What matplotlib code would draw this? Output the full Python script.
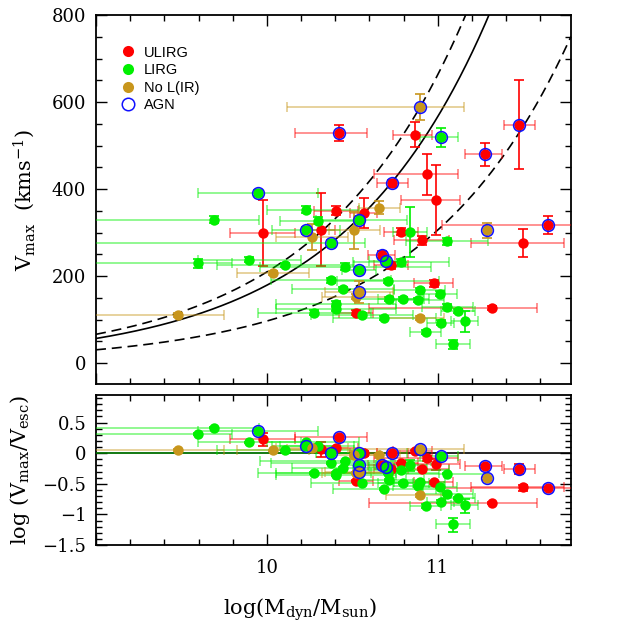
import numpy as np
import matplotlib
matplotlib.use('Agg')
import matplotlib.pyplot as plt
from matplotlib.lines import Line2D
from matplotlib.ticker import MultipleLocator, FuncFormatter
from matplotlib.colors import to_rgba

plt.rcParams['font.family'] = ['DejaVu Serif']
plt.rcParams['mathtext.fontset'] = 'dejavuserif'

# ULIRG (red)
ulirg_m = [10.425, 10.869, 11.278, 11.477, 10.735, 10.937, 10.988, 11.647, 11.497, 10.906,
           10.785, 10.672, 10.727, 10.977, 11.319, 10.522, 9.977, 10.405, 10.318, 10.567]
ulirg_mlo = [0.26, 0.13, 0.12, 0.09, 0.09, 0.31, 0.20, 0.62, 0.30, 0.16,
             0.10, 0.08, 0.10, 0.115, 0.72, 0.10, 0.19, 0.13, 0.08, 0.08]
ulirg_mhi = [0.16, 0.10, 0.10, 0.09, 0.09, 0.18, 0.14, 0.62, 0.24, 0.16,
             0.10, 0.08, 0.10, 0.115, 0.26, 0.10, 0.19, 0.13, 0.08, 0.08]
ulirg_v = [529, 525, 480, 548, 413, 434, 375, 318, 276, 282,
           302, 249, 225, 184, 127, 116, 300, 350, 307, 345]
ulirg_verr = [18, 28, 27, 103, 8, 47, 80, 21, 32, 10,
              8, 8, 8, 8, 5, 5, 76, 10, 84, 34]
ulirg_agn = [1, 0, 1, 1, 1, 0, 0, 1, 0, 0, 0, 1, 0, 0, 0, 0, 0, 0, 0, 0]

# LIRG (green)
lirg_m = [11.019, 9.948, 9.693, 10.228, 10.298, 10.228, 10.376, 10.538, 10.838, 11.056,
          10.697, 10.785, 10.458, 10.538, 9.596, 9.898, 10.108, 10.376, 10.708, 10.446,
          10.405, 10.405, 10.278, 10.556, 10.688, 10.717, 10.799, 10.895, 10.887, 11.012,
          11.056, 11.117, 11.158, 11.017, 10.930, 11.088]
lirg_mlo = [0.12, 0.35, 1.00, 0.23, 0.22, 0.20, 1.50, 0.25, 0.10, 0.24,
            0.10, 0.28, 0.50, 0.10, 0.80, 0.30, 0.40, 0.35, 0.30, 0.30,
            0.35, 0.35, 0.33, 0.30, 0.30, 0.20, 0.15, 0.15, 0.15, 0.10,
            0.15, 0.10, 0.08, 0.08, 0.09, 0.10]
lirg_mhi = [0.10, 0.35, 0.26, 0.31, 0.21, 0.20, 0.20, 0.28, 0.10, 0.24,
            0.10, 0.28, 0.50, 0.10, 0.20, 0.30, 0.40, 0.35, 0.30, 0.30,
            0.35, 0.35, 0.33, 0.30, 0.30, 0.20, 0.15, 0.15, 0.15, 0.10,
            0.15, 0.10, 0.08, 0.08, 0.09, 0.10]
lirg_v = [519, 391, 330, 352, 327, 305, 275, 330, 301, 280,
          234, 232, 222, 213, 229, 238, 226, 190, 189, 170,
          137, 125, 116, 110, 103, 147, 147, 168, 145, 160,
          130, 120, 96, 93, 72, 43]
lirg_verr = [22, 8, 8, 8, 8, 8, 8, 8, 57, 8,
             8, 8, 8, 8, 10, 5, 5, 5, 5, 5,
             5, 5, 5, 5, 5, 5, 5, 5, 5, 5,
             5, 5, 24, 5, 5, 11]
lirg_agn = [1, 1, 0, 0, 0, 1, 1, 1, 0, 0, 1, 0, 0, 1, 0, 0, 0, 0, 0, 0,
            0, 0, 0, 0, 0, 0, 0, 0, 0, 0, 0, 0, 0, 0, 0, 0]

# No L(IR) (gold)
noir_m = [10.896, 11.287, 10.659, 10.512, 10.262, 10.035, 9.479, 10.538, 10.522, 10.896]
noir_mlo = [0.78, 0.0, 0.12, 0.15, 0.21, 0.21, 0.50, 0.20, 0.20, 0.20]
noir_mhi = [0.26, 0.0, 0.12, 0.15, 0.21, 0.21, 0.27, 0.20, 0.20, 0.14]
noir_v = [588, 305, 357, 305, 289, 207, 111, 164, 153, 103]
noir_verr = [30, 17, 15, 42, 30, 5, 5, 25, 5, 5]
noir_agn = [1, 1, 0, 0, 0, 0, 0, 1, 0, 0]

RED = '#ff0000'
GREEN = '#00f000'
GOLD = '#c8961c'
BLUE = '#1010ff'


def vesc(m):
    return 800.0 * 10 ** (0.5 * (np.asarray(m) - 11.3))


groups = [
    (ulirg_m, ulirg_mlo, ulirg_mhi, ulirg_v, ulirg_verr, ulirg_agn, RED),
    (lirg_m, lirg_mlo, lirg_mhi, lirg_v, lirg_verr, lirg_agn, GREEN),
    (noir_m, noir_mlo, noir_mhi, noir_v, noir_verr, noir_agn, GOLD),
]

fig = plt.figure(figsize=(6.23, 6.23), dpi=100)
ax1 = fig.add_axes([0.1541, 0.3836, 0.7624, 0.5923])
ax2 = fig.add_axes([0.1541, 0.1252, 0.7624, 0.2408])

xmin, xmax = 9.0, 11.78
xx = np.linspace(xmin, xmax, 300)
ax1.plot(xx, vesc(xx), color='k', lw=1.2, zorder=2)
ax1.plot(xx, 1.17 * vesc(xx), color='k', lw=1.2, ls=(0, (6, 3.5)), zorder=2)
ax1.plot(xx, 0.54 * vesc(xx), color='k', lw=1.2, ls=(0, (6, 3.5)), zorder=2)
ax2.axhline(0, color='k', lw=1.2, zorder=2)

eb = dict(fmt='none', elinewidth=1.2, capsize=3.5, capthick=1.2, zorder=3)
for m, mlo, mhi, v, verr, agn, col in groups:
    m = np.array(m); v = np.array(v, float); verr = np.array(verr, float)
    xe = [mlo, mhi]
    ax1.errorbar(m, v, xerr=xe, ecolor=to_rgba(col, 0.5), **eb)
    ax1.errorbar(m, v, yerr=verr, ecolor=col, **eb)
    r = np.log10(v / vesc(m))
    rlo = r - np.log10((v - verr) / vesc(m))
    rhi = np.log10((v + verr) / vesc(m)) - r
    ax2.errorbar(m, r, xerr=xe, ecolor=to_rgba(col, 0.5), **eb)
    ax2.errorbar(m, r, yerr=[rlo, rhi], ecolor=col, **eb)

for m, mlo, mhi, v, verr, agn, col in groups:
    m = np.array(m); v = np.array(v, float)
    r = np.log10(v / vesc(m))
    ax1.plot(m, v, 'o', color=col, ms=7.5, mec='none', zorder=4)
    ax2.plot(m, r, 'o', color=col, ms=7.5, mec='none', zorder=4)

for m, mlo, mhi, v, verr, agn, col in groups:
    sel = np.array(agn) == 1
    m = np.array(m)[sel]; v = np.array(v, float)[sel]
    r = np.log10(v / vesc(m))
    ax1.plot(m, v, 'o', mfc='none', mec=BLUE, ms=8.5, mew=1.1, zorder=5)
    ax2.plot(m, r, 'o', mfc='none', mec=BLUE, ms=8.5, mew=1.1, zorder=5)

for ax in (ax1, ax2):
    ax.set_xlim(xmin, xmax)
    ax.xaxis.set_major_locator(MultipleLocator(1))
    ax.xaxis.set_minor_locator(MultipleLocator(0.2))
    ax.tick_params(which='both', direction='in', top=True, right=True, labelsize=13)
    ax.tick_params(which='major', length=8, width=1)
    ax.tick_params(which='minor', length=4, width=1)
    ax.tick_params(axis='y', pad=7)
    for s in ax.spines.values():
        s.set_linewidth(1.3)

ax1.set_ylim(-48, 800)
ax1.yaxis.set_major_locator(MultipleLocator(200))
ax1.yaxis.set_minor_locator(MultipleLocator(50))
ax1.tick_params(labelbottom=False)
ax1.set_ylabel(r'V$_{\rm max}$  (kms$^{-1}$)', fontsize=15)
ax1.yaxis.set_label_coords(-0.124, 0.5)

ax2.set_ylim(-1.5, 0.95)
ax2.yaxis.set_major_locator(MultipleLocator(0.5))
ax2.yaxis.set_minor_locator(MultipleLocator(0.1))
ax2.yaxis.set_major_formatter(FuncFormatter(lambda y, p: ('%g' % y).replace('-', '\u2212')))
ax2.xaxis.set_major_formatter(FuncFormatter(lambda x, p: '' if x < 9.5 else '%g' % x))
ax2.tick_params(axis='x', pad=10)
ax2.set_ylabel(r'log (V$_{\rm max}$/V$_{\rm esc}$)', fontsize=15)
ax2.yaxis.set_label_coords(-0.135, 0.5)
ax2.set_xlabel(r'log(M$_{\rm dyn}$/M$_{\rm sun}$)', fontsize=15)
ax2.xaxis.set_label_coords(0.43, -0.34)

handles = [
    Line2D([], [], ls='none', marker='o', color=RED, ms=8, mec='none'),
    Line2D([], [], ls='none', marker='o', color=GREEN, ms=8, mec='none'),
    Line2D([], [], ls='none', marker='o', color=GOLD, ms=8, mec='none'),
    Line2D([], [], ls='none', marker='o', mfc='none', mec=BLUE, ms=9, mew=1.1),
]
ax1.legend(handles, ['ULIRG', 'LIRG', 'No L(IR)', 'AGN'], loc='upper left',
           bbox_to_anchor=(0.03, 0.945), frameon=False, handlelength=1.0,
           handletextpad=0.6, labelspacing=0.25, borderpad=0.2,
           prop={'family': ['Liberation Sans', 'DejaVu Sans'], 'size': 10.5})

fig.savefig('out.png', dpi=100)
